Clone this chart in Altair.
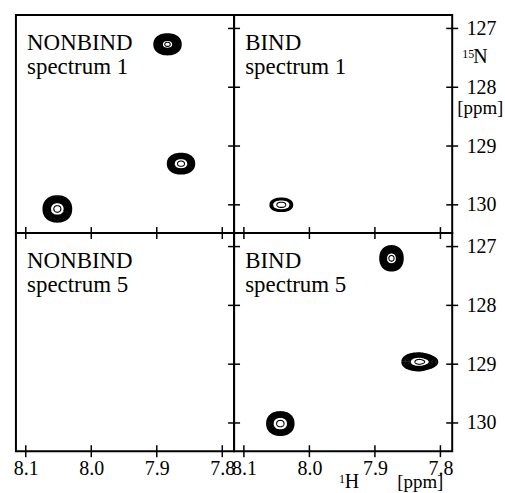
import altair as alt
import numpy as np
import pandas as pd

FONT = "Liberation Serif"
W = 219
H = 219

# panels
panel_ids = ["tl", "tr", "bl", "br"]
panel_line1 = ["NONBIND", "BIND", "NONBIND", "BIND"]
panel_line2 = ["spectrum 1", "spectrum 1", "spectrum 5", "spectrum 5"]

# axes (ppm)
h_ticks = [8.1, 8.0, 7.9, 7.8]
n_ticks = [127, 128, 129, 130]
h_domain = [7.782, 8.115]
n_domain = [126.77, 130.48]

# peaks: panel, 1H shift, 15N shift, half linewidths (ppm), innermost dense contour fraction
peak_panel = ["tl", "tl", "tl", "tr", "br", "br", "br"]
peak_h = [7.8836, 7.863, 8.0518, 8.0429, 7.8747, 7.8315, 8.0444]
peak_n = [127.27, 129.30, 130.07, 130.00, 127.20, 128.96, 130.01]
peak_wh = [0.0205, 0.0205, 0.0215, 0.0170, 0.0175, 0.0270, 0.0205]
peak_wn = [0.175, 0.172, 0.220, 0.110, 0.212, 0.150, 0.198]
peak_hole = [0.40, 0.52, 0.50, 0.80, 0.45, 0.55, 0.55]
peak_pointed = [False, False, False, False, False, True, False]

# contour outlines built from the peak parameters
rows = []
theta = np.linspace(0, 2 * np.pi, 61)
for i, (p, cx, cy, wx, wy, hole, pt) in enumerate(
        zip(peak_panel, peak_h, peak_n, peak_wh, peak_wn, peak_hole, peak_pointed)):
    m = int(np.ceil((1 - hole) / 0.075)) + 1
    fracs = list(np.linspace(1.0, hole, m)) + [hole * 0.5]
    for k, f in enumerate(fracs):
        for j, t in enumerate(theta):
            c, s = np.cos(t), np.sin(t)
            ex = 2 / 1.3 if (pt and c < 0) else 2 / 2.2
            ey = 2 / 2.2
            rows.append(dict(panel=p, cid=f"{i}-{k}", ord=j, inner=(k == len(fracs) - 1),
                             h=cx + wx * f * np.sign(c) * abs(c) ** ex,
                             n=cy + wy * f * np.sign(s) * abs(s) ** ey))
contours = pd.DataFrame(rows)


def panel(pid, l1, l2):
    bottom = pid in ("bl", "br")
    right = pid in ("tr", "br")
    xscale = alt.Scale(domain=h_domain, reverse=True, nice=False, zero=False)
    yscale = alt.Scale(domain=n_domain, reverse=True, nice=False, zero=False)
    if bottom:
        xaxis = alt.Axis(values=h_ticks, format=".1f", ticks=False, domain=False, grid=False,
                         labelFont=FONT, labelFontSize=20, labelColor="black", labelPadding=7,
                         labelFlush=False, title=None)
    else:
        xaxis = None
    if right:
        yaxis = alt.Axis(values=n_ticks, format="d", orient="right", ticks=False, domain=False, grid=False,
                         labelFont=FONT, labelFontSize=20, labelColor="black", labelPadding=14,
                         labelFlush=False, title=None)
    else:
        yaxis = None

    def X(f):
        return alt.X(f, type="quantitative", scale=xscale, axis=xaxis)

    def Y(f):
        return alt.Y(f, type="quantitative", scale=yscale, axis=yaxis)

    cdf = contours[contours.panel == pid]
    if len(cdf) == 0:
        cdf = pd.DataFrame({"h": [], "n": [], "cid": [], "ord": [], "inner": []})
    outer = alt.Chart(cdf[cdf.inner == False]).mark_line(color="black", strokeWidth=1.6).encode(
        x=X("h"), y=Y("n"), detail="cid:N", order="ord:Q")
    inner = alt.Chart(cdf[cdf.inner == True]).mark_line(color="black", strokeWidth=1.1).encode(
        x=X("h"), y=Y("n"), detail="cid:N", order="ord:Q")

    xt = alt.Chart(pd.DataFrame({"h": h_ticks})).mark_rule(color="black", strokeWidth=1.5).encode(
        x=X("h"), y=alt.value(H - 6), y2=alt.value(H + 6))
    yt = alt.Chart(pd.DataFrame({"n": n_ticks})).mark_rule(color="black", strokeWidth=1.5).encode(
        y=Y("n"), x=alt.value(W - 6), x2=alt.value(W + 6))

    t1 = alt.Chart(pd.DataFrame({"h": [8.098], "n": [127.36], "t": [l1]})).mark_text(
        align="left", baseline="alphabetic", font=FONT, fontSize=23, color="black").encode(
        x=X("h"), y=Y("n"), text="t:N")
    t2 = alt.Chart(pd.DataFrame({"h": [8.098], "n": [127.77], "t": [l2]})).mark_text(
        align="left", baseline="alphabetic", font=FONT, fontSize=23, color="black").encode(
        x=X("h"), y=Y("n"), text="t:N")

    layers = [outer, inner, xt, yt, t1, t2]
    if pid == "tr":
        sup = alt.Chart(pd.DataFrame({"n": [127.50], "t": ["15"]})).mark_text(
            align="left", baseline="alphabetic", font=FONT, fontSize=12, color="black").encode(
            y=Y("n"), x=alt.value(W + 10), text="t:N")
        nn = alt.Chart(pd.DataFrame({"n": [127.59], "t": ["N"]})).mark_text(
            align="left", baseline="alphabetic", font=FONT, fontSize=20, color="black").encode(
            y=Y("n"), x=alt.value(W + 21), text="t:N")
        ppm = alt.Chart(pd.DataFrame({"n": [128.45], "t": ["[ppm]"]})).mark_text(
            align="left", baseline="alphabetic", font=FONT, fontSize=19, color="black").encode(
            y=Y("n"), x=alt.value(W + 5), text="t:N")
        layers += [sup, nn, ppm]
    if pid == "br":
        sup = alt.Chart(pd.DataFrame({"h": [7.955], "t": ["1"]})).mark_text(
            align="left", baseline="alphabetic", font=FONT, fontSize=12, color="black").encode(
            x=X("h"), y=alt.value(H + 32), text="t:N")
        hh = alt.Chart(pd.DataFrame({"h": [7.946], "t": ["H"]})).mark_text(
            align="left", baseline="alphabetic", font=FONT, fontSize=20, color="black").encode(
            x=X("h"), y=alt.value(H + 37), text="t:N")
        ppm = alt.Chart(pd.DataFrame({"h": [7.866], "t": ["[ppm]"]})).mark_text(
            align="left", baseline="alphabetic", font=FONT, fontSize=19, color="black").encode(
            x=X("h"), y=alt.value(H + 37), text="t:N")
        layers += [sup, hh, ppm]
    return alt.layer(*layers).properties(width=W, height=H)


charts = [panel(p, a, b) for p, a, b in zip(panel_ids, panel_line1, panel_line2)]
chart = alt.concat(*charts, columns=2, spacing=0, bounds="flush").properties(
    padding={"left": 12, "top": 13, "right": 0, "bottom": 0}
).configure(font=FONT).configure_view(stroke="black", strokeWidth=2)

chart.save("out.html", embed_options={"renderer": "svg", "actions": False})
